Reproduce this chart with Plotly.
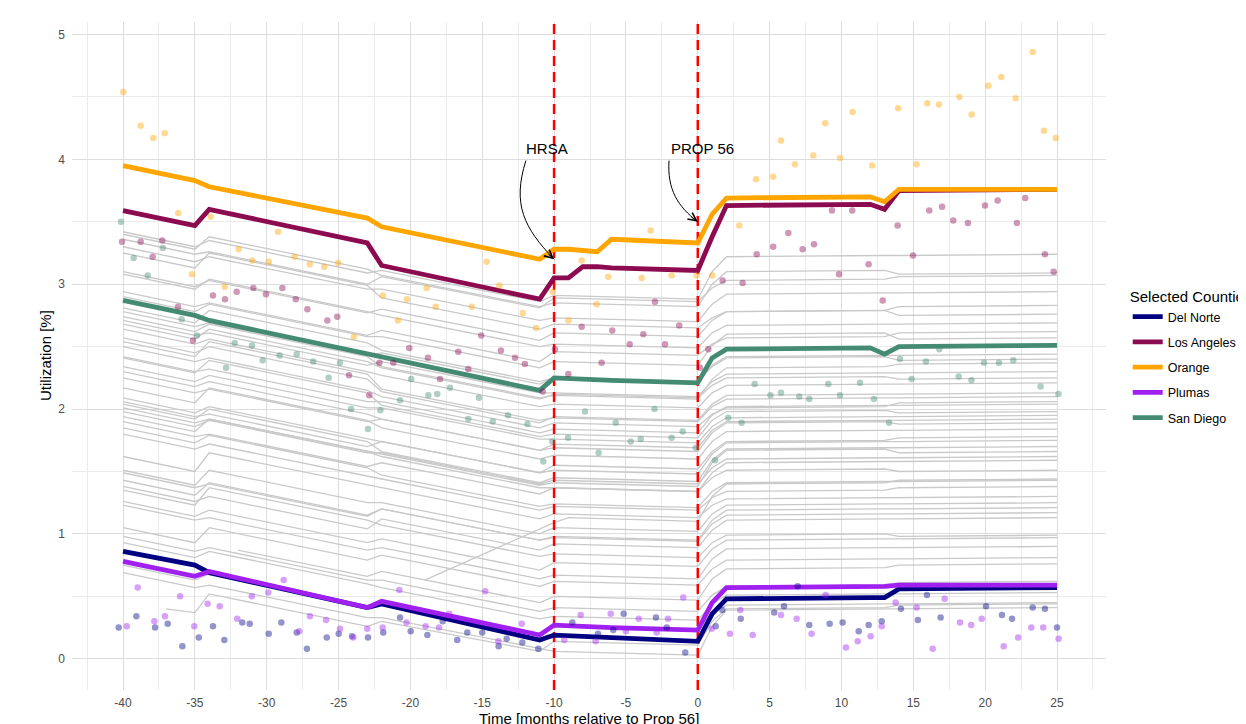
import plotly.graph_objects as go

# ---------------- data ----------------
# grey background counties: values at common vertex months
GREY_X = [-40, -35, -34, -23, -22, -11, -10, 0, 1, 2, 13, 14, 25]
GREY_LINES = [
    [3.42, 3.30, 3.35, 3.09, 3.11, 2.86, 2.91, 2.88, 3.10, 3.22, 3.23, 3.23, 3.24],
    [3.40, 3.28, 3.38, 3.12, 3.07, 2.82, 2.85, 2.82, 3.00, 3.10, 3.11, 3.08, 3.09],
    [3.36, 3.24, 3.26, 3.00, 3.06, 2.81, 2.89, 2.86, 2.97, 3.03, 3.04, 3.06, 3.07],
    [3.30, 3.18, 3.22, 2.96, 2.96, 2.71, 2.73, 2.70, 2.84, 2.92, 2.93, 2.93, 2.94],
    [3.25, 3.13, 3.25, 2.99, 2.89, 2.64, 2.68, 2.65, 2.73, 2.78, 2.79, 2.82, 2.83],
    [3.10, 2.98, 3.03, 2.77, 2.80, 2.55, 2.61, 2.58, 2.71, 2.78, 2.79, 2.75, 2.76],
    [3.08, 2.96, 3.04, 2.78, 2.75, 2.50, 2.52, 2.49, 2.61, 2.67, 2.68, 2.68, 2.69],
    [2.94, 2.82, 2.85, 2.59, 2.63, 2.38, 2.46, 2.43, 2.52, 2.57, 2.58, 2.61, 2.62],
    [2.90, 2.78, 2.84, 2.58, 2.58, 2.33, 2.38, 2.35, 2.51, 2.60, 2.61, 2.56, 2.57],
    [2.81, 2.69, 2.79, 2.53, 2.47, 2.22, 2.25, 2.22, 2.35, 2.42, 2.43, 2.43, 2.44],
    [2.78, 2.66, 2.69, 2.43, 2.45, 2.20, 2.25, 2.22, 2.34, 2.41, 2.42, 2.39, 2.40],
    [2.74, 2.62, 2.68, 2.42, 2.34, 2.09, 2.11, 2.08, 2.24, 2.33, 2.34, 2.36, 2.37],
    [2.71, 2.59, 2.61, 2.35, 2.38, 2.13, 2.13, 2.10, 2.22, 2.28, 2.29, 2.29, 2.30],
    [2.68, 2.56, 2.64, 2.38, 2.33, 2.08, 2.12, 2.09, 2.19, 2.25, 2.26, 2.24, 2.25],
    [2.64, 2.52, 2.56, 2.30, 2.27, 2.02, 2.04, 2.01, 2.13, 2.19, 2.20, 2.20, 2.21],
    [2.57, 2.45, 2.50, 2.24, 2.14, 1.89, 1.94, 1.91, 2.04, 2.11, 2.12, 2.12, 2.13],
    [2.54, 2.42, 2.54, 2.28, 2.16, 1.91, 1.93, 1.90, 2.02, 2.08, 2.09, 2.09, 2.10],
    [2.50, 2.38, 2.41, 2.15, 2.10, 1.85, 1.89, 1.86, 1.96, 2.01, 2.02, 2.05, 2.06],
    [2.42, 2.30, 2.32, 2.06, 2.06, 1.81, 1.84, 1.81, 1.95, 2.02, 2.03, 2.03, 2.04],
    [2.41, 2.29, 2.39, 2.13, 2.03, 1.78, 1.80, 1.77, 1.91, 1.98, 1.99, 1.97, 1.98],
    [2.34, 2.22, 2.27, 2.01, 2.01, 1.76, 1.76, 1.73, 1.86, 1.93, 1.94, 1.94, 1.95],
    [2.30, 2.18, 2.22, 1.96, 1.92, 1.67, 1.72, 1.69, 1.83, 1.90, 1.91, 1.91, 1.92],
    [2.25, 2.13, 2.16, 1.90, 1.92, 1.67, 1.69, 1.66, 1.81, 1.89, 1.90, 1.88, 1.89],
    [2.17, 2.05, 2.17, 1.91, 1.85, 1.60, 1.63, 1.60, 1.74, 1.82, 1.83, 1.83, 1.84],
    [2.09, 1.97, 2.02, 1.76, 1.74, 1.49, 1.55, 1.52, 1.66, 1.74, 1.75, 1.77, 1.78],
    [2.06, 1.94, 1.96, 1.70, 1.74, 1.49, 1.51, 1.48, 1.64, 1.73, 1.74, 1.74, 1.75],
    [2.04, 1.92, 2.00, 1.74, 1.66, 1.41, 1.45, 1.42, 1.59, 1.68, 1.69, 1.69, 1.70],
    [2.01, 1.89, 1.92, 1.66, 1.64, 1.39, 1.41, 1.38, 1.57, 1.67, 1.68, 1.65, 1.66],
    [1.98, 1.86, 1.91, 1.65, 1.65, 1.40, 1.43, 1.40, 1.53, 1.60, 1.61, 1.61, 1.62],
    [1.94, 1.82, 1.92, 1.66, 1.62, 1.37, 1.37, 1.34, 1.49, 1.57, 1.58, 1.58, 1.59],
    [1.90, 1.78, 1.80, 1.54, 1.57, 1.32, 1.37, 1.34, 1.45, 1.51, 1.52, 1.50, 1.51],
    [1.85, 1.73, 1.79, 1.53, 1.47, 1.22, 1.24, 1.21, 1.34, 1.41, 1.42, 1.42, 1.43],
    [1.80, 1.68, 1.72, 1.46, 1.44, 1.19, 1.22, 1.19, 1.29, 1.34, 1.35, 1.37, 1.38],
    [1.62, 1.50, 1.65, 1.39, 1.37, 1.12, 1.16, 1.13, 1.23, 1.28, 1.29, 1.29, 1.30],
    [1.51, 1.39, 1.51, 1.25, 1.25, 1.00, 1.05, 1.02, 1.16, 1.23, 1.24, 1.24, 1.25],
    [1.49, 1.37, 1.40, 1.14, 1.20, 0.95, 0.98, 0.95, 1.11, 1.19, 1.20, 1.20, 1.21],
    [1.43, 1.31, 1.41, 1.15, 1.20, 0.95, 0.97, 0.94, 1.08, 1.15, 1.16, 1.16, 1.17],
    [1.38, 1.26, 1.30, 1.04, 1.12, 0.87, 0.92, 0.89, 1.03, 1.11, 1.12, 1.12, 1.13],
    [1.35, 1.23, 1.37, 1.11, 1.07, 0.82, 0.84, 0.81, 0.93, 0.99, 1.00, 0.98, 0.99],
    [1.26, 1.14, 1.19, 0.93, 0.96, 0.71, 0.77, 0.74, 0.88, 0.95, 0.96, 0.96, 0.97],
    [1.23, 1.11, 1.13, 0.87, 0.89, 0.64, 0.67, 0.64, 0.80, 0.88, 0.89, 0.89, 0.90],
    [1.05, 0.93, 1.05, 0.79, 0.83, 0.58, 0.62, 0.59, 0.72, 0.79, 0.80, 0.80, 0.81],
    [0.98, 0.86, 0.89, 0.63, 0.63, 0.38, 0.41, 0.38, 0.51, 0.58, 0.59, 0.61, 0.62],
    [0.93, 0.81, 0.86, 0.60, 0.57, 0.32, 0.34, 0.31, 0.44, 0.51, 0.52, 0.52, 0.53],
    [0.75, 0.63, 0.68, 0.42, 0.44, 0.19, 0.27, 0.24, 0.36, 0.43, 0.44, 0.44, 0.45],
    [0.69, 0.57, 0.59, 0.33, 0.33, 0.08, 0.06, 0.03, 0.26, 0.39, 0.40, 0.40, 0.41],
]
# grey counties with shorter series
EXTRA_GREY_X = [
    [-37, -35, -34, -23, -22, -11, -10, 0, 1, 2, 13, 14, 25],
    [-32, -23, -22, -11, -10, 0, 1, 2, 13, 14, 25],
    [-19, -10, -9, 0, 1, 2, 13, 14, 25],
]
EXTRA_GREY_Y = [
    [0.40, 0.37, 0.52, 0.26, 0.30, 0.06, 0.14, 0.11, 0.30, 0.40, 0.41, 0.43, 0.44],
    [0.87, 0.66, 0.70, 0.45, 0.50, 0.47, 0.64, 0.72, 0.73, 0.75, 0.76],
    [0.63, 1.09, 1.13, 1.10, 1.30, 1.40, 1.41, 1.43, 1.44],
]

# selected counties: fitted lines (vertex months)
SEL_X = [-40, -35, -34, -23, -22, -11, -10, -9, -8, -7, -6, 0, 1, 2, 12, 13, 14, 25]
DEL_NORTE_LINE = [0.86, 0.75, 0.69, 0.41, 0.44, 0.15, 0.19, 0.185, 0.18, 0.175, 0.17, 0.14, 0.36, 0.48, 0.49, 0.49, 0.56, 0.57]
LOS_ANGELES_LINE = [3.59, 3.47, 3.60, 3.33, 3.15, 2.88, 3.05, 3.05, 3.14, 3.14, 3.13, 3.11, 3.38, 3.63, 3.64, 3.60, 3.75, 3.76]
ORANGE_LINE = [3.95, 3.83, 3.78, 3.53, 3.46, 3.20, 3.28, 3.28, 3.27, 3.26, 3.36, 3.33, 3.56, 3.69, 3.70, 3.66, 3.76, 3.76]
PLUMAS_LINE = [0.78, 0.66, 0.70, 0.41, 0.46, 0.19, 0.27, 0.265, 0.26, 0.255, 0.25, 0.23, 0.45, 0.57, 0.575, 0.58, 0.59, 0.59]
SAN_DIEGO_LINE = [2.87, 2.75, 2.71, 2.44, 2.42, 2.15, 2.25, 2.245, 2.24, 2.235, 2.23, 2.21, 2.41, 2.48, 2.49, 2.44, 2.50, 2.51]

# selected counties: observed (jittered) monthly points
DEL_NORTE_PX = [-40.30, -39.07, -37.77, -36.89, -35.87, -34.73, -33.74, -32.95, -31.70, -31.18, -29.86, -28.98, -27.91, -27.20, -25.82, -24.99, -24.06, -22.95, -21.89, -20.72, -19.98, -18.82, -17.75, -16.74, -16.04, -15.00, -13.86, -13.30, -12.21, -11.10, -8.73, -6.94, -5.88, -5.16, -2.91, -2.16, -0.87, 1.25, 1.71, 2.99, 5.32, 6.00, 6.95, 7.76, 9.18, 10.08, 11.20, 11.89, 12.80, 14.14, 15.32, 15.95, 16.90, 20.06, 21.17, 21.87, 23.31, 24.16, 25.00]
DEL_NORTE_PY = [0.25, 0.34, 0.25, 0.28, 0.10, 0.17, 0.26, 0.15, 0.29, 0.28, 0.20, 0.29, 0.21, 0.08, 0.17, 0.20, 0.18, 0.17, 0.21, 0.33, 0.22, 0.19, 0.30, 0.15, 0.21, 0.21, 0.10, 0.16, 0.13, 0.08, 0.29, 0.20, 0.23, 0.36, 0.33, 0.25, 0.05, 0.26, 0.39, 0.32, 0.37, 0.42, 0.58, 0.27, 0.28, 0.29, 0.22, 0.27, 0.30, 0.40, 0.31, 0.51, 0.33, 0.42, 0.35, 0.32, 0.41, 0.40, 0.25]
LOS_ANGELES_PX = [-40.07, -38.77, -37.93, -37.27, -36.17, -35.13, -33.74, -32.90, -32.09, -30.93, -30.05, -28.91, -27.98, -27.17, -25.78, -25.09, -24.27, -22.86, -22.16, -21.19, -20.08, -18.78, -17.94, -16.67, -15.97, -15.07, -13.70, -12.72, -12.03, -10.79, -9.94, -9.01, -8.08, -6.69, -5.95, -4.74, -3.79, -2.98, -2.28, -1.29, 0.15, 0.73, 1.73, 3.12, 4.10, 5.25, 6.30, 7.30, 8.09, 9.34, 9.83, 10.75, 11.89, 12.87, 13.91, 14.98, 16.11, 17.00, 17.78, 18.80, 19.99, 20.87, 22.21, 22.79, 24.16, 24.77]
LOS_ANGELES_PY = [3.34, 3.34, 3.22, 3.35, 2.82, 2.55, 2.91, 2.88, 2.94, 2.97, 2.92, 2.97, 2.88, 2.80, 2.71, 2.74, 2.27, 2.11, 2.37, 2.37, 2.49, 2.41, 2.24, 2.46, 2.32, 2.59, 2.47, 2.41, 2.36, 2.14, 2.48, 2.28, 2.66, 2.37, 2.63, 2.52, 2.60, 2.86, 2.52, 2.67, 2.33, 2.48, 3.03, 3.01, 3.24, 3.30, 3.41, 3.28, 3.32, 3.59, 3.08, 3.59, 3.16, 2.87, 3.47, 3.23, 3.59, 3.62, 3.51, 3.49, 3.63, 3.67, 3.49, 3.69, 3.24, 3.10]
ORANGE_PX = [-39.98, -38.77, -37.89, -37.10, -36.15, -35.20, -33.90, -32.92, -31.95, -31.00, -29.86, -29.21, -28.05, -27.01, -25.99, -25.02, -23.93, -21.91, -20.87, -20.24, -18.87, -18.24, -15.73, -14.69, -13.81, -12.18, -11.26, -10.10, -9.01, -8.08, -7.04, -6.23, -3.90, -3.28, -1.82, -0.08, 1.01, 2.89, 4.05, 5.25, 5.79, 6.76, 8.04, 8.87, 9.90, 10.78, 12.14, 13.95, 15.23, 15.97, 16.79, 18.20, 19.06, 20.22, 21.12, 22.12, 23.31, 24.09, 24.91]
ORANGE_PY = [4.54, 4.27, 4.17, 4.21, 3.57, 3.08, 3.54, 2.98, 3.28, 3.19, 3.18, 3.42, 3.22, 3.16, 3.14, 3.17, 2.58, 2.91, 2.71, 2.88, 2.97, 2.82, 2.82, 3.18, 2.99, 2.77, 2.65, 2.94, 2.71, 3.19, 2.84, 3.06, 3.05, 3.43, 3.07, 3.07, 3.07, 3.47, 3.84, 3.86, 4.15, 3.96, 4.03, 4.29, 4.01, 4.38, 3.95, 4.41, 3.96, 4.45, 4.44, 4.50, 4.36, 4.59, 4.66, 4.49, 4.86, 4.23, 4.17]
PLUMAS_PX = [-39.74, -38.98, -37.82, -37.08, -36.03, -35.04, -34.11, -33.27, -32.05, -31.04, -29.89, -28.82, -27.73, -26.99, -25.87, -24.90, -23.97, -23.00, -21.93, -20.77, -20.27, -18.94, -18.01, -17.29, -14.79, -13.88, -12.25, -9.29, -8.15, -7.11, -6.06, -5.00, -4.11, -2.86, -2.07, -1.01, 0.97, 2.24, 2.96, 3.82, 5.79, 6.88, 7.92, 8.90, 10.31, 11.13, 12.03, 12.80, 13.77, 15.23, 16.35, 17.18, 18.25, 19.03, 19.76, 21.29, 22.30, 23.21, 24.04, 25.11]
PLUMAS_PY = [0.26, 0.57, 0.30, 0.34, 0.50, 0.26, 0.44, 0.42, 0.32, 0.50, 0.53, 0.63, 0.22, 0.34, 0.31, 0.24, 0.17, 0.24, 0.25, 0.55, 0.29, 0.26, 0.25, 0.36, 0.54, 0.14, 0.28, 0.15, 0.35, 0.14, 0.36, 0.22, 0.32, 0.21, 0.32, 0.49, 0.24, 0.20, 0.39, 0.19, 0.35, 0.32, 0.20, 0.51, 0.09, 0.14, 0.18, 0.26, 0.45, 0.41, 0.08, 0.48, 0.29, 0.27, 0.32, 0.10, 0.17, 0.25, 0.25, 0.16]
SAN_DIEGO_PX = [-40.14, -39.26, -38.28, -37.23, -35.92, -34.86, -32.83, -32.23, -31.02, -30.28, -29.10, -27.91, -26.76, -25.69, -24.90, -24.13, -22.95, -22.09, -20.72, -19.94, -18.75, -18.13, -17.24, -15.97, -15.23, -14.27, -13.21, -11.86, -10.75, -10.13, -9.03, -7.85, -6.90, -5.71, -4.67, -3.97, -3.01, -1.82, -1.05, -0.13, 1.20, 2.12, 3.05, 3.96, 5.06, 5.79, 7.06, 7.76, 9.08, 9.90, 11.29, 12.26, 13.31, 14.07, 14.88, 15.88, 16.81, 18.16, 19.05, 19.92, 20.96, 21.96, 23.86, 25.10]
SAN_DIEGO_PY = [3.50, 3.21, 3.07, 3.29, 2.72, 2.59, 2.33, 2.53, 2.51, 2.39, 2.43, 2.44, 2.38, 2.25, 2.37, 2.00, 1.84, 1.99, 2.07, 2.24, 2.11, 2.12, 2.17, 1.92, 2.09, 1.90, 1.95, 1.88, 1.58, 1.74, 1.77, 1.98, 1.65, 1.89, 1.74, 1.76, 2.00, 1.77, 1.82, 1.69, 1.59, 1.93, 1.89, 2.20, 2.11, 2.13, 2.10, 2.08, 2.20, 2.11, 2.21, 2.08, 1.89, 2.40, 2.24, 2.38, 2.48, 2.26, 2.23, 2.37, 2.37, 2.39, 2.18, 2.12]

COUNTIES = ["Del Norte", "Los Angeles", "Orange", "Plumas", "San Diego"]
COLORS = ["#000080", "#8B0A50", "#FFA500", "#A020F0", "#458B74"]
POINT_COLORS = ["rgba(0,0,128,0.42)", "rgba(139,10,80,0.42)", "rgba(255,165,0,0.42)",
                "rgba(160,32,240,0.42)", "rgba(69,139,116,0.42)"]
SEL_LINES = [DEL_NORTE_LINE, LOS_ANGELES_LINE, ORANGE_LINE, PLUMAS_LINE, SAN_DIEGO_LINE]
SEL_PX = [DEL_NORTE_PX, LOS_ANGELES_PX, ORANGE_PX, PLUMAS_PX, SAN_DIEGO_PX]
SEL_PY = [DEL_NORTE_PY, LOS_ANGELES_PY, ORANGE_PY, PLUMAS_PY, SAN_DIEGO_PY]

EVENT_X = [-10, 0]
EVENT_LABELS = ["HRSA", "PROP 56"]
X_TICKS = [-40, -35, -30, -25, -20, -15, -10, -5, 0, 5, 10, 15, 20, 25]
Y_TICKS = [0, 1, 2, 3, 4, 5]
X_RANGE = [-43.55, 28.41]
Y_RANGE = [-0.25, 5.10]

FONT = "Liberation Sans, Arial, sans-serif"

# ---------------- figure ----------------
fig = go.Figure()

gx, gy = [], []
for vals in GREY_LINES:
    gx += GREY_X + [None]
    gy += vals + [None]
for xs, ys in zip(EXTRA_GREY_X, EXTRA_GREY_Y):
    gx += xs + [None]
    gy += ys + [None]
fig.add_trace(go.Scatter(x=gx, y=gy, mode="lines",
                         line=dict(color="#C9C9C9", width=1.3),
                         showlegend=False, hoverinfo="skip"))

for ex in EVENT_X:
    fig.add_trace(go.Scatter(x=[ex, ex], y=Y_RANGE, mode="lines",
                             line=dict(color="#FF0000", width=2.5, dash="10px,6px"),
                             showlegend=False, hoverinfo="skip"))

for name, col, ys in zip(COUNTIES, COLORS, SEL_LINES):
    fig.add_trace(go.Scatter(x=SEL_X, y=ys, mode="lines", name=name,
                             legendgroup=name,
                             line=dict(color=col, width=4.8)))

for name, pcol, px, py in zip(COUNTIES, POINT_COLORS, SEL_PX, SEL_PY):
    fig.add_trace(go.Scatter(x=px, y=py, mode="markers", name=name,
                             legendgroup=name, showlegend=False,
                             marker=dict(color=pcol, size=6.5, line=dict(width=0))))

# curved arrows (paths in data coordinates)
fig.add_shape(type="path", xref="x", yref="y",
              path="M-11.96,3.99 C-12.93,3.64 -12.09,3.45 -10,3.2",
              line=dict(color="black", width=1))
fig.add_shape(type="path", xref="x", yref="y",
              path="M-2.00,3.99 C-2.14,3.76 -1.38,3.62 0,3.5",
              line=dict(color="black", width=1))
fig.add_annotation(x=EVENT_X[0], y=3.2, ax=-7, ay=-6, showarrow=True, text="",
                   arrowhead=5, arrowsize=1.6, arrowwidth=1, arrowcolor="black", standoff=0)
fig.add_annotation(x=EVENT_X[1], y=3.5, ax=-8, ay=-6, showarrow=True, text="",
                   arrowhead=5, arrowsize=1.6, arrowwidth=1, arrowcolor="black", standoff=0)
fig.add_annotation(x=-10.49, y=4.09, text=EVENT_LABELS[0], showarrow=False,
                   font=dict(family=FONT, size=15, color="black"))
fig.add_annotation(x=0.36, y=4.09, text=EVENT_LABELS[1], showarrow=False,
                   font=dict(family=FONT, size=15, color="black"))

# axis titles
fig.add_annotation(xref="paper", yref="paper", x=0.5, y=-0.042, yanchor="middle",
                   text="Time [months relative to Prop 56]", showarrow=False,
                   font=dict(family=FONT, size=15, color="black"))
fig.add_annotation(xref="paper", yref="paper", x=-0.0261, y=0.5, xanchor="center",
                   textangle=-90, text="Utilization [%]", showarrow=False,
                   font=dict(family=FONT, size=15, color="black"))

grid_major = "#DCDCDC"
grid_minor = "#EBEBEB"
fig.update_layout(
    width=1238, height=716,
    margin=dict(l=64, r=140, t=14, b=34, autoexpand=False),
    paper_bgcolor="white", plot_bgcolor="white",
    font=dict(family=FONT, color="black"),
    xaxis=dict(range=X_RANGE, tickmode="array", tickvals=X_TICKS,
               ticktext=[str(v) for v in X_TICKS],
               showline=False, zeroline=False,
               ticks="", showgrid=True, gridcolor=grid_major, gridwidth=1.4,
               minor=dict(tickmode="linear", dtick=2.5, tick0=0, showgrid=True,
                          gridcolor=grid_minor, gridwidth=1),
               tickfont=dict(family=FONT, size=12, color="#4D4D4D"),
               ticklabelstandoff=4),
    yaxis=dict(range=Y_RANGE, tickmode="array", tickvals=Y_TICKS,
               ticktext=[str(v) for v in Y_TICKS],
               showline=False, zeroline=False,
               ticks="", showgrid=True, gridcolor=grid_major, gridwidth=1.4,
               minor=dict(tickmode="linear", dtick=0.5, tick0=0, showgrid=True,
                          gridcolor=grid_minor, gridwidth=1),
               tickfont=dict(family=FONT, size=12, color="#4D4D4D"),
               ticklabelstandoff=6),
    legend=dict(x=1.021, y=0.61, xanchor="left", yanchor="top",
                title=dict(text="Selected Counties", font=dict(family=FONT, size=15, color="black")),
                font=dict(family=FONT, size=12.5, color="black"),
                tracegroupgap=6, itemwidth=30, bgcolor="rgba(0,0,0,0)"),
    hovermode=False,
)

fig.write_html("out.html")
